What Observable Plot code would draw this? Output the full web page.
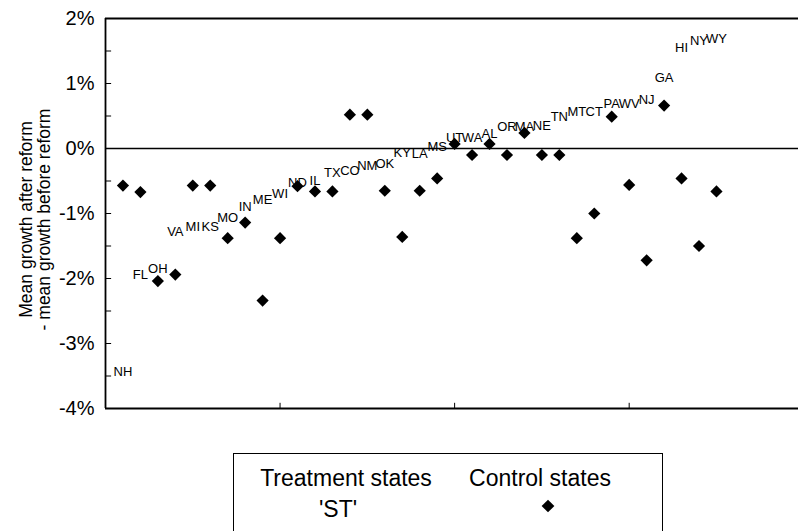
<!DOCTYPE html>
<html><head><meta charset="utf-8">
<script src="https://cdn.jsdelivr.net/npm/d3@7"></script>
<script src="https://cdn.jsdelivr.net/npm/@observablehq/plot@0.6"></script>
<style>
body{margin:0;background:#fff;font-family:"Liberation Sans",Arial,sans-serif;}
#wrap{position:relative;width:798px;height:531px;overflow:hidden;background:#fff;}
#legend{position:absolute;left:233px;top:453px;width:430px;height:100px;border:1.5px solid #000;box-sizing:border-box;}
.lg{position:absolute;font-size:23px;line-height:1;color:#000;white-space:nowrap;transform:translate(-50%,-50%);}
.dia{position:absolute;width:9px;height:9px;background:#000;transform:translate(-50%,-50%) rotate(45deg);}
</style></head><body>
<div id="wrap"><div id="chart"></div>
<div id="legend">
  <div class="lg" style="left:112px;top:24px">Treatment states</div>
  <div class="lg" style="left:306px;top:24px">Control states</div>
  <div class="lg" style="left:104px;top:55px">'ST'</div>
  <div class="dia" style="left:314px;top:52px"></div>
</div></div>
<script>
const treatmentStates=["NH","FL","OH","VA","MI","KS","MO","IN","ME","WI","ND","IL","TX","CO","NM","OK","KY","LA","MS","UT","WA","AL","OR","MA","NE","TN","MT","CT","PA","WV","NJ","GA","HI","NY","WY"];
const treatmentValues=[-3.44,-1.95,-1.85,-1.28,-1.21,-1.21,-1.06,-0.90,-0.79,-0.70,-0.53,-0.49,-0.38,-0.35,-0.27,-0.24,-0.07,-0.08,0.02,0.17,0.17,0.22,0.33,0.33,0.35,0.48,0.56,0.57,0.68,0.68,0.75,1.09,1.55,1.65,1.68];
const controlValues=[-0.57,-0.67,-2.04,-1.94,-0.57,-0.57,-1.38,-1.14,-2.34,-1.38,-0.58,-0.66,-0.66,0.52,0.52,-0.65,-1.36,-0.65,-0.46,0.07,-0.10,0.07,-0.10,0.24,-0.10,-0.10,-1.38,-1.00,0.49,-0.56,-1.72,0.66,-0.46,-1.50,-0.66];
const yTicks=[-4,-3,-2,-1,0,1,2];
const yMinorTicks=[-3.5,-3,-2.5,-2,-1.5,-1,-0.5,0.5,1,1.5];
const xTicks=[10,20,30];
const yLabel="Mean growth after reform\n- mean growth before reform";

const treat=treatmentStates.map((s,i)=>({state:s,idx:i+1,value:treatmentValues[i]}));
const ctrl=controlValues.map((v,i)=>({idx:i+1,value:v}));

const chart=Plot.plot({
  width:798,height:440,marginLeft:105,marginTop:18,marginBottom:32,marginRight:0,
  style:{fontFamily:"Liberation Sans, Arial, sans-serif",background:"#fff",color:"#000",overflow:"visible"},
  x:{domain:[0,39.7],axis:null},
  y:{domain:[-4,2],axis:null},
  marks:[
    Plot.axisY(yTicks,{tickSize:0,tickPadding:11,fontSize:20,tickFormat:d=>d+"%",label:null}),
    Plot.ruleY(yMinorTicks,{y:d=>d,x1:0,x2:0.35,stroke:"#000"}),
    Plot.ruleX(xTicks,{x:d=>d,y1:-4,y2:-3.92,stroke:"#000"}),
    Plot.ruleY([2,-4],{stroke:"#000",strokeWidth:2}),
    Plot.ruleY([0],{stroke:"#000",strokeWidth:1.6}),
    Plot.ruleX([0],{stroke:"#000",strokeWidth:1.8}),
    Plot.dot(ctrl,{x:"idx",y:"value",symbol:"diamond2",r:5.5,fill:"#000",stroke:null}),
    Plot.text(treat,{x:"idx",y:"value",text:"state",fontSize:13,fill:"#000"}),
    Plot.text([yLabel],{frameAnchor:"left",textAnchor:"middle",rotate:-90,dx:-70,dy:6,fontSize:17.5,lineHeight:1.0,fill:"#000"})
  ]
});
document.getElementById("chart").append(chart);
</script></body></html>
